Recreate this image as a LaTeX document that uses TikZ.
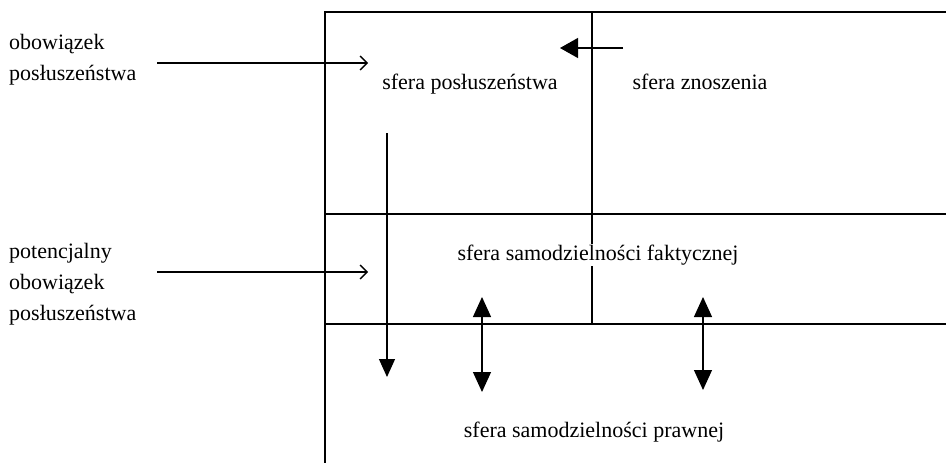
\documentclass[tikz,border=0pt]{standalone}
\usepackage{fontspec}
\setmainfont{Liberation Serif}
\usetikzlibrary{arrows.meta}
\begin{document}
\begin{tikzpicture}[x=1pt,y=-1pt,
  frame/.style={line width=1.4pt},
  lbl/.style={font=\fontsize{22}{31}\selectfont, inner sep=0pt},
  side/.style={lbl, align=left, anchor=north west},
  thinline/.style={line width=1.2pt},
  openarr/.style={thinline,-{Straight Barb[length=7pt,width=14pt,line width=1.3pt]}},
  solidarr/.style={thinline,-{Triangle[length=18pt,width=20pt]}},
  downarr/.style={thinline,-{Triangle[length=18pt,width=16pt]}},
  dblarr/.style={thinline,{Triangle[length=20pt,width=18pt]}-{Triangle[length=20pt,width=18pt]}}
]
\useasboundingbox (0,0) rectangle (946,463);
% frame
\draw[frame] (946,12) -- (325,12) -- (325,463);
\draw[frame] (325,214) -- (946,214);
\draw[frame] (325,324) -- (946,324);
\draw[frame] (592,12) -- (592,324);
% texts
\node[lbl, anchor=base] (posl) at (470,89) {sfera posłuszeństwa};
\node[lbl, anchor=base] (znos) at (700,89) {sfera znoszenia};
\node[lbl, anchor=base, fill=white, inner sep=1pt] (fakt) at (598,260) {sfera samodzielności faktycznej};
\node[lbl, anchor=base] (praw) at (594,437) {sfera samodzielności prawnej};
\node[side] (obow) at (9,34) {obowiązek\\posłuszeństwa};
\node[side] (pot) at (9,243) {potencjalny\\obowiązek\\posłuszeństwa};
% arrow coordinates
\coordinate (a1s) at (157,63);
\coordinate (a1e) at (368,63);
\coordinate (a2s) at (157,272);
\coordinate (a2e) at (368,272);
\coordinate (a3s) at (623,48);
\coordinate (a3e) at (560,48);
\coordinate (a4s) at (387,133);
\coordinate (a4e) at (387,377);
\coordinate (a5s) at (482,297);
\coordinate (a5e) at (482,392);
\coordinate (a6s) at (703,297);
\coordinate (a6e) at (703,390);
\draw[openarr] (a1s) -- (a1e);
\draw[openarr] (a2s) -- (a2e);
\draw[solidarr] (a3s) -- (a3e);
\draw[downarr] (a4s) -- (a4e);
\draw[dblarr] (a5s) -- (a5e);
\draw[dblarr] (a6s) -- (a6e);
\end{tikzpicture}
\end{document}
